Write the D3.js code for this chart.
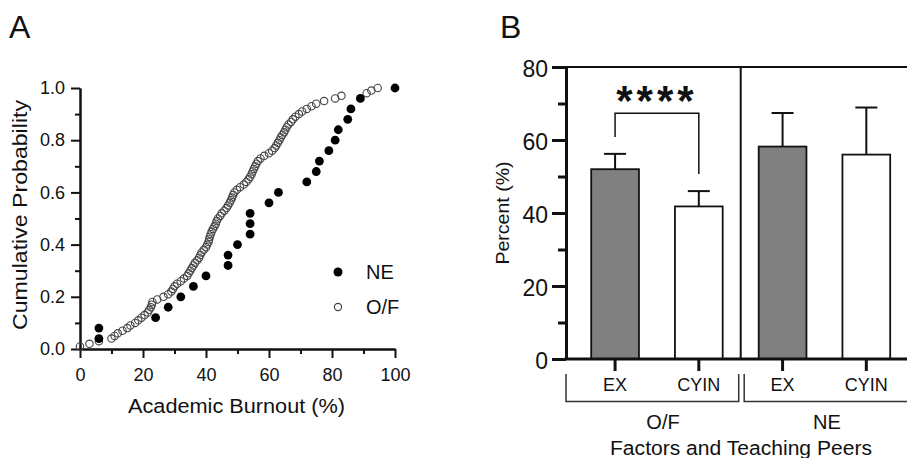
<!DOCTYPE html>
<html>
<head>
<meta charset="utf-8">
<script src="https://cdn.jsdelivr.net/npm/d3@7"></script>
<style>
  body { margin: 0; background: #fff; }
  svg text { font-family: "Liberation Sans", Arial, sans-serif; fill: #111; }
</style>
</head>
<body>
<svg id="chart" width="907" height="458"></svg>
<script>
// panel A: academic burnout (%) per student, sorted, for each group
const neBurnout = [6, 6, 24, 28, 32, 36, 40, 47, 47, 50, 54, 54, 54, 60, 63,
  72, 75, 76, 79, 81, 82, 85, 86, 89, 100];
const ofBurnout = [0, 3, 6, 10, 11, 12, 13.5, 15, 16, 17.5, 18.5, 19.5, 20.5, 21.5,
  22, 22.5, 22.8, 23, 24.5, 26.5, 28, 29, 29.5, 30, 30.8, 32, 33, 34, 34.5, 35,
  35.5, 36, 36.5, 37.2, 37.8, 38.2, 38.6, 39.3, 40, 40.4, 40.8, 41, 41.2, 41.5,
  41.8, 42.2, 42.7, 43.1, 43.4, 43.8, 44.5, 45, 45.8, 46.5, 47, 47.5, 47.9, 48.3,
  48.6, 49, 49.8, 50.8, 52, 52.8, 53.5, 54, 54.5, 54.8, 55.2, 55.6, 56, 56.5,
  57.3, 58.5, 60, 61, 61.8, 62.3, 62.8, 63.3, 63.7, 64.2, 64.8, 65.2, 65.6, 66.2,
  67, 67.6, 68.4, 69.5, 70.5, 72, 73.5, 75, 77.5, 81, 83, 91, 92.5, 94.5];
const xTicksA = [0, 20, 40, 60, 80, 100];
const yTicksA = [0, 0.2, 0.4, 0.6, 0.8, 1.0];

// panel B: percent by group and factor
const groups = ["O/F", "NE"];
const factors = ["EX", "CYIN"];
const barKeys = ["O/F-EX", "O/F-CYIN", "NE-EX", "NE-CYIN"];
const barMeans = [52, 41.8, 58.2, 56];
const barUpper = [56.2, 46, 67.4, 68.9];
const yTicksB = [0, 20, 40, 60, 80];

const svg = d3.select("#chart");

// fit text to a measured width
function fit(sel, w) {
  sel.attr("textLength", w).attr("lengthAdjust", "spacingAndGlyphs");
  return sel;
}

// ---------------- panel A ----------------
const xA = d3.scaleLinear().domain([0, 100]).range([80, 395]);
const yA = d3.scaleLinear().domain([0, 1]).range([349, 88]);

svg.append("text").attr("x", 9).attr("y", 38).attr("font-size", 32).text("A");

const gxA = svg.append("g").attr("transform", "translate(0,349)")
  .call(d3.axisBottom(xA).tickValues(xTicksA).tickSize(9).tickPadding(10).tickSizeOuter(0));
svg.append("g").attr("transform", "translate(0,349)")
  .call(d3.axisBottom(xA).tickValues([10, 30, 50, 70, 90]).tickSize(5).tickFormat("").tickSizeOuter(0));
const gyA = svg.append("g").attr("transform", "translate(80,0)")
  .call(d3.axisLeft(yA).tickValues(yTicksA).tickSize(9).tickPadding(6)
    .tickFormat(d3.format(".1f")).tickSizeOuter(0));
svg.append("g").attr("transform", "translate(80,0)")
  .call(d3.axisLeft(yA).tickValues([0.1, 0.3, 0.5, 0.7, 0.9]).tickSize(5).tickFormat("").tickSizeOuter(0));

svg.selectAll(".domain, .tick line").attr("stroke", "#111").attr("stroke-width", 2);
gxA.selectAll("text").attr("font-size", 18).attr("fill", "#111");
gyA.selectAll("text").attr("font-size", 18).attr("fill", "#111");

fit(svg.append("text").attr("x", 236.5).attr("y", 413).attr("text-anchor", "middle")
  .attr("font-size", 20).text("Academic Burnout (%)"), 217);
fit(svg.append("text").attr("transform", "translate(27,215) rotate(-90)")
  .attr("text-anchor", "middle").attr("font-size", 20).text("Cumulative Probability"), 230);

// O/F open circles
svg.append("g").selectAll("circle").data(ofBurnout).join("circle")
  .attr("cx", d => xA(d))
  .attr("cy", (d, i) => yA((i + 1) / ofBurnout.length))
  .attr("r", 3.7).attr("fill", "none").attr("stroke", "#444").attr("stroke-width", 1.1);

// NE filled dots
svg.append("g").selectAll("circle").data(neBurnout).join("circle")
  .attr("cx", d => xA(d))
  .attr("cy", (d, i) => yA((i + 1) / neBurnout.length))
  .attr("r", 4.4).attr("fill", "#000");

// legend
svg.append("circle").attr("cx", 338).attr("cy", 272).attr("r", 4.5).attr("fill", "#000");
svg.append("circle").attr("cx", 338).attr("cy", 307).attr("r", 3.6)
  .attr("fill", "none").attr("stroke", "#444").attr("stroke-width", 1.2);
svg.append("text").attr("x", 366).attr("y", 279).attr("font-size", 20).text("NE");
svg.append("text").attr("x", 366).attr("y", 314).attr("font-size", 20).text("O/F");

// ---------------- panel B ----------------
const yB = d3.scaleLinear().domain([0, 80]).range([359, 67]);
const xB = d3.scaleBand().domain(barKeys).range([573.2, 908.2])
  .paddingInner(0.43).paddingOuter(0.215);
const axisX = 566;
const divX = xB.range()[0] + 2 * xB.step();

svg.append("text").attr("x", 500).attr("y", 38).attr("font-size", 32).text("B");

// frame: top line and group divider
svg.append("line").attr("x1", axisX).attr("x2", 907).attr("y1", yB(80)).attr("y2", yB(80))
  .attr("stroke", "#111").attr("stroke-width", 1.8);
svg.append("line").attr("x1", divX).attr("x2", divX).attr("y1", yB(80)).attr("y2", yB(0))
  .attr("stroke", "#111").attr("stroke-width", 2);

// bars
svg.append("g").selectAll("rect").data(barKeys).join("rect")
  .attr("x", d => xB(d))
  .attr("y", (d, i) => yB(barMeans[i]))
  .attr("width", xB.bandwidth())
  .attr("height", (d, i) => yB(0) - yB(barMeans[i]))
  .attr("fill", (d, i) => i % 2 === 0 ? "#808080" : "#fff")
  .attr("stroke", "#111").attr("stroke-width", 1.8);

// error bars (upper only)
const eb = svg.append("g").selectAll("g").data(barKeys).join("g")
  .attr("transform", d => `translate(${xB(d) + xB.bandwidth() / 2},0)`);
eb.append("line").attr("x1", 0).attr("x2", 0)
  .attr("y1", (d, i) => yB(barMeans[i])).attr("y2", (d, i) => yB(barUpper[i]))
  .attr("stroke", "#111").attr("stroke-width", 2);
eb.append("line").attr("x1", -11).attr("x2", 11)
  .attr("y1", (d, i) => yB(barUpper[i])).attr("y2", (d, i) => yB(barUpper[i]))
  .attr("stroke", "#111").attr("stroke-width", 2);

// y axis
const gyB = svg.append("g").attr("transform", `translate(${axisX},0)`)
  .call(d3.axisLeft(yB).tickValues(yTicksB).tickSize(14).tickPadding(4).tickSizeOuter(0));
const gyBm = svg.append("g").attr("transform", `translate(${axisX},0)`)
  .call(d3.axisLeft(yB).tickValues([10, 30, 50, 70]).tickSize(8).tickFormat("").tickSizeOuter(0));
gyB.selectAll(".domain, line").attr("stroke", "#111").attr("stroke-width", 3);
gyBm.selectAll(".domain, line").attr("stroke", "#111").attr("stroke-width", 3);
gyB.selectAll("text").attr("font-size", 23).attr("fill", "#111").attr("dy", "0.4em");

// baseline and x ticks
svg.append("line").attr("x1", axisX - 1.5).attr("x2", 907).attr("y1", yB(0)).attr("y2", yB(0))
  .attr("stroke", "#111").attr("stroke-width", 3);
svg.append("g").selectAll("line").data(barKeys).join("line")
  .attr("x1", d => xB(d) + xB.bandwidth() / 2).attr("x2", d => xB(d) + xB.bandwidth() / 2)
  .attr("y1", yB(0)).attr("y2", yB(0) + 12)
  .attr("stroke", "#111").attr("stroke-width", 3);

// factor labels
svg.append("g").selectAll("text").data(barKeys).join("text")
  .attr("x", d => xB(d) + xB.bandwidth() / 2).attr("y", 391)
  .attr("text-anchor", "middle").attr("font-size", 18)
  .text((d, i) => factors[i % 2]);

// group brackets
const grpSpan = [[axisX, divX - 2], [divX + 3.5, 912]];
const br = svg.append("g").attr("fill", "none").attr("stroke", "#333").attr("stroke-width", 1.5);
grpSpan.forEach(([a, b]) => {
  br.append("path").attr("d", `M${a},374V401.5H${b}V374`);
});
svg.append("g").selectAll("text").data(groups).join("text")
  .attr("x", (d, i) => i === 0 ? 663 : 827).attr("y", 429)
  .attr("text-anchor", "middle").attr("font-size", 20).text(d => d);
fit(svg.append("text").attr("x", 741).attr("y", 455).attr("text-anchor", "middle")
  .attr("font-size", 20).text("Factors and Teaching Peers"), 262);

// y label
fit(svg.append("text").attr("transform", "translate(509,213) rotate(-90)")
  .attr("text-anchor", "middle").attr("font-size", 19).text("Percent (%)"), 103);

// significance bracket between O/F EX and CYIN
const cEX = xB("O/F-EX") + xB.bandwidth() / 2;
const cCY = xB("O/F-CYIN") + xB.bandwidth() / 2;
svg.append("path")
  .attr("d", `M${cEX},${yB(60.8)}V${yB(67.3)}H${cCY}V${yB(50.7)}`)
  .attr("fill", "none").attr("stroke", "#111").attr("stroke-width", 1.5);
svg.append("text").attr("x", (cEX + cCY) / 2).attr("y", 115)
  .attr("text-anchor", "middle").attr("font-size", 42).attr("font-weight", "bold")
  .attr("letter-spacing", 4).text("****");
</script>
</body>
</html>
